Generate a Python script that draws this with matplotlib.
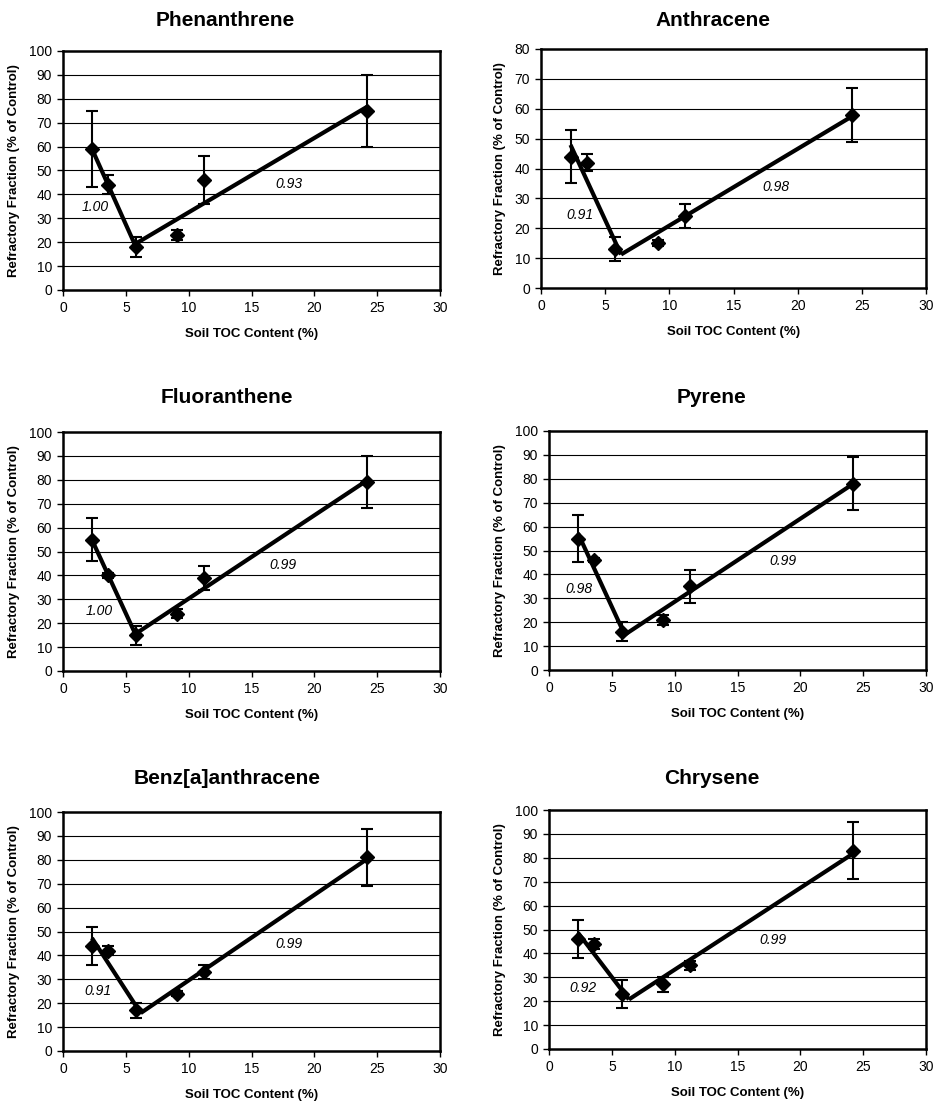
import numpy as np
import matplotlib.pyplot as plt

plt.rcParams['font.family'] = ['Liberation Sans', 'DejaVu Sans']

# soil total organic carbon of the six soils (%)
toc = [2.3, 3.6, 5.8, 9.1, 11.2, 24.2]

# refractory fraction (% of control) and error bars per PAH
phenanthrene = [59, 44, 18, 23, 46, 75]
phenanthrene_err = [16, 4, 4, 2, 10, 15]
anthracene = [44, 42, 13, 15, 24, 58]
anthracene_err = [9, 3, 4, 1, 4, 9]
fluoranthene = [55, 40, 15, 24, 39, 79]
fluoranthene_err = [9, 1, 4, 2, 5, 11]
pyrene = [55, 46, 16, 21, 35, 78]
pyrene_err = [10, 1, 4, 2, 7, 11]
benz_a_anthracene = [44, 42, 17, 24, 33, 81]
benz_a_anthracene_err = [8, 2, 3, 1, 3, 12]
chrysene = [46, 44, 23, 27, 35, 83]
chrysene_err = [8, 2, 6, 3, 2, 12]

titles = ['Phenanthrene', 'Anthracene', 'Fluoranthene', 'Pyrene',
          'Benz[a]anthracene', 'Chrysene']
r2_low = ['1.00', '0.91', '1.00', '0.98', '0.91', '0.92']
r2_high = ['0.93', '0.98', '0.99', '0.99', '0.99', '0.99']
y_max = [100, 80, 100, 100, 100, 100]

series = [(phenanthrene, phenanthrene_err), (anthracene, anthracene_err),
          (fluoranthene, fluoranthene_err), (pyrene, pyrene_err),
          (benz_a_anthracene, benz_a_anthracene_err), (chrysene, chrysene_err)]

# axes boxes in pixels: left, top, right, bottom
boxes = [(63, 51, 440, 290), (541, 49, 926, 288),
         (63, 432, 440, 671), (549, 431, 926, 670),
         (63, 812, 440, 1051), (549, 810, 926, 1049)]
title_pos = [(225, 20), (713, 20), (227, 398), (712, 398), (227, 778), (712, 778)]
low_txt = [(2.6, 34.6), (3.0, 24.3), (2.9, 24.9), (2.4, 34.1), (2.8, 25.1), (2.7, 25.5)]
high_txt = [(18.0, 44.5), (18.3, 33.8), (17.5, 44.4), (18.6, 45.7), (18.0, 44.9), (17.8, 45.4)]

W, H = 936, 1104
fig = plt.figure(figsize=(W / 100, H / 100), dpi=100)

x = np.array(toc)
for i, (vals, errs) in enumerate(series):
    l, t, r, b = boxes[i]
    ax = fig.add_axes([l / W, 1 - b / H, (r - l) / W, (b - t) / H])
    y = np.array(vals, dtype=float)

    for yy in range(10, y_max[i], 10):
        ax.axhline(yy, color='black', lw=0.8, zorder=1)

    # two linear trends: first three soils and the last four soils
    p1 = np.polyfit(x[:3], y[:3], 1)
    p2 = np.polyfit(x[2:], y[2:], 1)
    xc = (p2[1] - p1[1]) / (p1[0] - p2[0])
    xs1 = np.array([x[0], xc])
    xs2 = np.array([xc, x[-1]])
    ax.plot(xs1, np.polyval(p1, xs1), color='black', lw=3.0,
            solid_capstyle='butt', zorder=3)
    ax.plot(xs2, np.polyval(p2, xs2), color='black', lw=3.0,
            solid_capstyle='butt', zorder=3)

    ax.errorbar(x, y, yerr=errs, fmt='D', color='black', ms=7.5,
                ecolor='black', elinewidth=1.5, capsize=4.5, capthick=1.5,
                zorder=4)

    ax.text(*low_txt[i], r2_low[i], style='italic', fontsize=10,
            ha='center', va='center')
    ax.text(*high_txt[i], r2_high[i], style='italic', fontsize=10,
            ha='center', va='center')

    ax.set_xlim(0, 30)
    ax.set_ylim(0, y_max[i])
    ax.set_xticks(range(0, 31, 5))
    ax.set_yticks(range(0, y_max[i] + 1, 10))
    ax.tick_params(direction='out', length=4, width=1, labelsize=10, pad=4)
    for s in ax.spines.values():
        s.set_linewidth(1.8)
    ax.set_xlabel('Soil TOC Content (%)', fontsize=9.5, fontweight='bold',
                  labelpad=9)
    ax.set_ylabel('Refractory Fraction (% of Control)', fontsize=9.5,
                  fontweight='bold', labelpad=6)

    tx, ty = title_pos[i]
    fig.text(tx / W, 1 - ty / H, titles[i], fontsize=15, fontweight='bold',
             ha='center', va='center')

fig.savefig('out.png', dpi=100)
